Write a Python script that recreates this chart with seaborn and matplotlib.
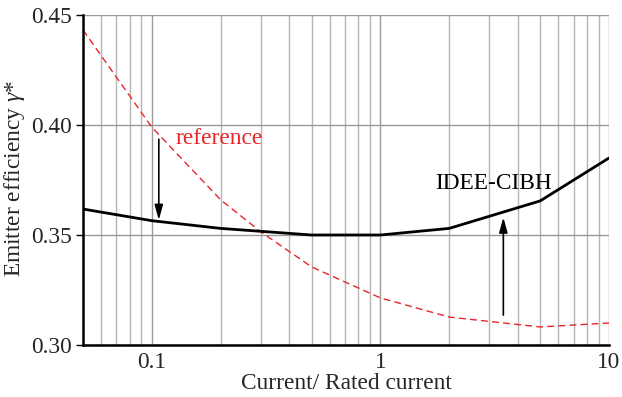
import matplotlib
matplotlib.use("Agg")
import matplotlib.pyplot as plt
import seaborn as sns
import pandas as pd
import numpy as np
from matplotlib.ticker import FixedLocator, LogLocator, NullFormatter, FuncFormatter

# Data
current = [0.05, 0.1, 0.2, 0.5, 1, 2, 5, 10]
idee_cibh = [0.3618, 0.3565, 0.3530, 0.3500, 0.3500, 0.3530, 0.3655, 0.3850]
ref_current = [0.05, 0.1, 0.2, 0.3, 0.5, 1, 2, 5, 10]
reference = [0.4432, 0.3990, 0.3660, 0.3514, 0.3355, 0.3214, 0.3127, 0.3082, 0.3100]
y_ticks = [0.30, 0.35, 0.40, 0.45]
x_ticks = [0.1, 1, 10]
x_tick_labels = ["0.1", "1", "10"]

sns.set_style("white")
plt.rcParams['font.family'] = ['Liberation Serif', 'DejaVu Serif']
plt.rcParams['mathtext.fontset'] = 'custom'
plt.rcParams['mathtext.it'] = 'Liberation Serif:italic'
plt.rcParams['mathtext.rm'] = 'Liberation Serif'

FS = 16.8

fig = plt.figure(figsize=(6.22, 3.97), dpi=100)
ax = fig.add_axes([83/622, 1-345/397, (609-83)/622, (345-15)/397])

df1 = pd.DataFrame({"x": current, "y": idee_cibh})
df2 = pd.DataFrame({"x": ref_current, "y": reference})

sns.lineplot(data=df2, x="x", y="y", ax=ax, color="#e8262b", lw=1.0,
             linestyle=(0, (5, 3)), zorder=3)
sns.lineplot(data=df1, x="x", y="y", ax=ax, color="black", lw=2.0, zorder=4)

ax.set_xscale("log")
ax.set_xlim(0.05, 10)
ax.set_ylim(0.30, 0.45)

ax.xaxis.set_major_locator(FixedLocator(x_ticks))
ax.set_xticklabels(x_tick_labels)
ax.xaxis.set_minor_locator(LogLocator(base=10, subs=np.arange(2, 10)))
ax.xaxis.set_minor_formatter(NullFormatter())
ax.yaxis.set_major_locator(FixedLocator(y_ticks))
ax.yaxis.set_major_formatter(FuncFormatter(lambda v, p: f"{v:.2f}"))

ax.grid(True, which="major", axis="both", color="#9a9a9a", lw=1.0)
ax.grid(True, which="minor", axis="x", color="#b4b4b4", lw=1.0)
ax.set_axisbelow(True)

for s in ["top", "right"]:
    ax.spines[s].set_visible(False)
for s in ["left", "bottom"]:
    ax.spines[s].set_color("black")
    ax.spines[s].set_linewidth(1.8)
    ax.spines[s].set_zorder(5)

ax.tick_params(axis="y", which="major", length=5, width=1, color="black",
               labelsize=FS, pad=3, left=True)
ax.tick_params(axis="x", which="both", length=0, labelsize=FS, pad=5)

ax.set_xlabel("Current/ Rated current", fontsize=FS, labelpad=0)
ax.set_ylabel(r"Emitter efficiency $\it{\gamma}$*", fontsize=FS)
ax.yaxis.set_label_coords((27 - 83) / 526, 0.505)

ax.text(0.127, 0.394, "reference", color="#e8262b", fontsize=FS, va="center", ha="left")
ax.text(1.74, 0.3736, "IDEE-CIBH", color="black", fontsize=FS, va="center", ha="left")

astyle = "-|>,head_length=0.9,head_width=0.25"
ax.annotate("", xy=(0.1073, 0.3568), xytext=(0.1073, 0.3935),
            arrowprops=dict(arrowstyle=astyle, color="black", lw=1.2,
                            shrinkA=0, shrinkB=0))
ax.annotate("", xy=(3.45, 0.3580), xytext=(3.45, 0.3136),
            arrowprops=dict(arrowstyle=astyle, color="black", lw=1.2,
                            shrinkA=0, shrinkB=0))

fig.savefig("out.png", dpi=100)
